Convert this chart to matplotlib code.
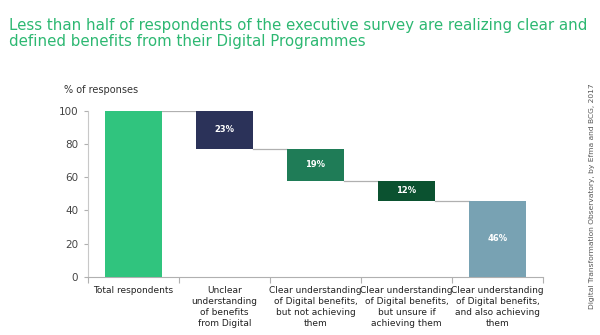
import matplotlib
matplotlib.use("Agg")
import matplotlib.pyplot as plt

categories = ["Total respondents",
              "Unclear\nunderstanding\nof benefits\nfrom Digital",
              "Clear understanding\nof Digital benefits,\nbut not achieving\nthem",
              "Clear understanding\nof Digital benefits,\nbut unsure if\nachieving them",
              "Clear understanding\nof Digital benefits,\nand also achieving\nthem"]
values = [100, 23, 19, 12, 46]
labels = ["", "23%", "19%", "12%", "46%"]
colors = ["#30C47E", "#2B3259", "#1F7C57", "#0B5230", "#78A2B3"]
yticks = [0, 20, 40, 60, 80, 100]

# waterfall bottoms
bottoms = [0]
level = values[0]
for v in values[1:-1]:
    level -= v
    bottoms.append(level)
bottoms.append(0)
tops = [b + v for b, v in zip(bottoms, values)]

fig = plt.figure(figsize=(6, 3.35), dpi=100)
fig.patch.set_facecolor("white")
ax = fig.add_axes([88/600, 1-277/335, (543-88)/600, (277-110.7)/335])

x = list(range(len(categories)))
w = 0.63
ax.bar(x, values, bottom=bottoms, width=w, color=colors, zorder=3)

# connector lines: from each bar to next bar's top (next level)
for i in range(len(values) - 1):
    y = tops[i + 1]
    ax.plot([x[i] + w/2, x[i+1] - w/2], [y, y], color="#B0B0B0", lw=0.9, zorder=2)

for i, lab in enumerate(labels):
    if lab:
        ax.text(x[i], bottoms[i] + values[i]/2, lab, ha="center", va="center",
                color="white", fontsize=6, fontweight="bold", zorder=4)

ax.set_xlim(-0.5, 4.5)
ax.set_ylim(0, 100)
ax.set_yticks(yticks)
ax.set_yticklabels([str(t) for t in yticks], fontsize=7.5, color="#444444")
ax.set_xticks([i - 0.5 for i in range(len(categories) + 1)])
ax.set_xticklabels([])
ax.tick_params(axis="x", length=4, color="#B0B0B0", direction="out")
ax.tick_params(axis="y", length=3, color="#B0B0B0", pad=4)
for s in ["top", "right"]:
    ax.spines[s].set_visible(False)
ax.spines["left"].set_color("#C8C8C8")
ax.spines["bottom"].set_color("#B0B0B0")

for i, c in enumerate(categories):
    ax.annotate(c, xy=(x[i], 0), xycoords="data", xytext=(0, -9),
                textcoords="offset pixels", ha="center", va="top",
                fontsize=6.5, color="#222222", linespacing=1.3)

fig.text(64/600, 1-90/335, "% of responses", fontsize=7, color="#333333", va="center")
fig.text(9/600, 1-33.5/335,
         "Less than half of respondents of the executive survey are realizing clear and\n"
         "defined benefits from their Digital Programmes",
         fontsize=10.8, color="#2DB872", va="center", linespacing=1.1)
fig.text(592/600, 1-196/335, "Digital Transformation Observatory, by Efma and BCG, 2017",
         rotation=90, fontsize=5.4, color="#555555", ha="center", va="center")

fig.savefig("out.png", dpi=100)
